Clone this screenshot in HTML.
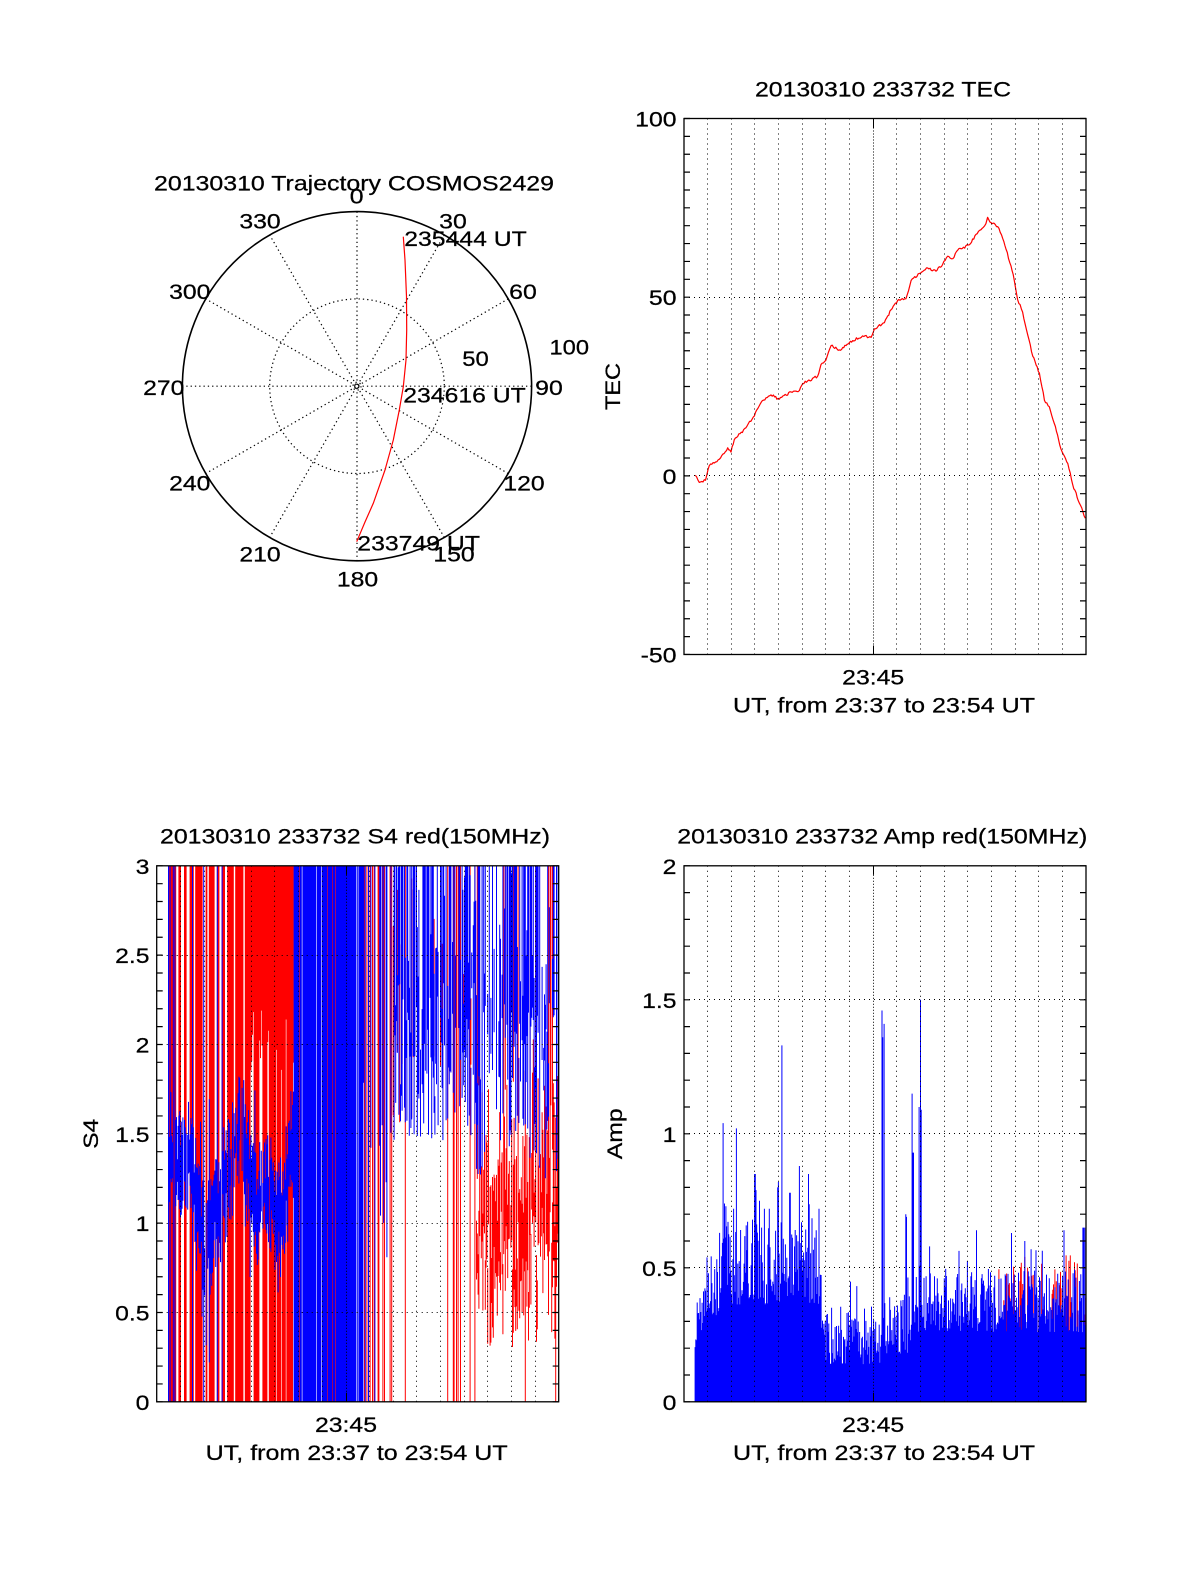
<!DOCTYPE html>
<html><head><meta charset="utf-8">
<style>
html,body{margin:0;padding:0;background:#fff;}
svg{display:block;}
text{font-family:"Liberation Sans",Arial,Helvetica,sans-serif;font-size:21px;fill:#000;stroke:#000;stroke-width:0.25px;}
</style></head><body>
<svg width="1200" height="1575" viewBox="0 0 1200 1575">
<defs>
<clipPath id="c4"><rect x="156.7" y="865.8" width="402" height="536"/></clipPath>
<clipPath id="ca"><rect x="684" y="865.8" width="402" height="536"/></clipPath>
<clipPath id="ct"><rect x="684" y="118.5" width="402" height="536"/></clipPath>
</defs>
<rect width="1200" height="1575" fill="#fff"/>

<!-- ============ POLAR ============ -->
<g fill="none" stroke="#000">
<circle cx="357" cy="386.2" r="174.6" stroke-width="1.6"/>
<g stroke-width="1.2" stroke-dasharray="1.3 3">
<circle cx="357" cy="386.2" r="87.3"/>
<circle cx="357" cy="386.2" r="4"/>
<line x1="357" y1="211.6" x2="357" y2="560.8"/>
<line x1="444.3" y1="235" x2="269.7" y2="537.4"/>
<line x1="508.2" y1="298.9" x2="205.8" y2="473.5"/>
<line x1="531.6" y1="386.2" x2="182.4" y2="386.2"/>
<line x1="508.2" y1="473.5" x2="205.8" y2="298.9"/>
<line x1="444.3" y1="537.4" x2="269.7" y2="235"/>
</g>
</g>
<path d="M403.3 236.7 L405 260 L406.5 296.7 L406.7 330 L406 360 L403.3 386.7 L399.3 410 L393.3 440 L385 470 L373.3 503.3 L365 522 L356.7 541.7" fill="none" stroke="#f00" stroke-width="1.2" stroke-linejoin="round"/>
<text x="154" y="190.7" textLength="400" lengthAdjust="spacingAndGlyphs">20130310 Trajectory COSMOS2429</text>
<text x="349.8" y="203.3" textLength="13.8" lengthAdjust="spacingAndGlyphs">0</text>
<text x="439.2" y="228.3" textLength="27.6" lengthAdjust="spacingAndGlyphs">30</text>
<text x="239.4" y="228.3" textLength="41.3" lengthAdjust="spacingAndGlyphs">330</text>
<text x="509.2" y="299" textLength="27.6" lengthAdjust="spacingAndGlyphs">60</text>
<text x="169.1" y="299" textLength="41.3" lengthAdjust="spacingAndGlyphs">300</text>
<text x="535.2" y="395" textLength="27.6" lengthAdjust="spacingAndGlyphs">90</text>
<text x="143.1" y="395" textLength="41.3" lengthAdjust="spacingAndGlyphs">270</text>
<text x="503.4" y="490.7" textLength="41.3" lengthAdjust="spacingAndGlyphs">120</text>
<text x="169.1" y="490.7" textLength="41.3" lengthAdjust="spacingAndGlyphs">240</text>
<text x="433.4" y="561.7" textLength="41.3" lengthAdjust="spacingAndGlyphs">150</text>
<text x="239.4" y="561.7" textLength="41.3" lengthAdjust="spacingAndGlyphs">210</text>
<text x="336.9" y="586.7" textLength="41.3" lengthAdjust="spacingAndGlyphs">180</text>
<text x="462.3" y="366" textLength="26.5" lengthAdjust="spacingAndGlyphs">50</text>
<text x="549.5" y="354.3" textLength="39.5" lengthAdjust="spacingAndGlyphs">100</text>
<text x="404.3" y="246" textLength="122.4" lengthAdjust="spacingAndGlyphs">235444 UT</text>
<text x="403.3" y="402.3" textLength="122.4" lengthAdjust="spacingAndGlyphs">234616 UT</text>
<text x="357.3" y="550.7" textLength="122.7" lengthAdjust="spacingAndGlyphs">233749 UT</text>

<!-- ============ TEC ============ -->
<path id="tec" clip-path="url(#ct)" d="M695.3 475.3 L699.3 482.4 L705.5 480.3 L709.3 465.6 L719.4 459.2 L727.7 447.8 L731 452.1 L734.3 439.6 L745.9 427.8 L753.3 417 L761.1 402.4 L771 394.9 L779.3 399.2 L791.1 392 L799.4 390.6 L802.7 383.5 L817.6 376.3 L821 364.5 L825.9 360.2 L831.1 345.6 L839.4 349.9 L846 345.6 L852.7 340.6 L862.6 335.9 L871.1 337.4 L874.4 328.8 L884.4 322.7 L891 309.8 L897.6 300.5 L905.9 298.8 L911.1 280.5 L919.4 273.4 L927.7 268 L936 271.2 L942.6 264.5 L947.6 256.2 L952.8 258.7 L957.7 250.2 L969.3 244.8 L976 234.4 L985.9 223.7 L987.6 217.3 L991.1 222.7 L997.7 226.6 L1002.7 238.4 L1006 249.1 L1011 265.9 L1014.3 280.5 L1017.6 299.5 L1022.6 312 L1027.8 335.2 L1032.8 356.3 L1039.4 373.1 L1044.4 400.2 L1049.3 406.7 L1054.3 423.5 L1060.9 448.8 L1067.8 463.5 L1072.7 484.6 L1079.4 503.2 L1085.3 518.2" fill="none" stroke="#f00" stroke-width="1.2" stroke-linejoin="round"/>
<g fill="none" stroke="#000">
<path stroke-width="1" stroke-dasharray="1 4" d="M707.5 118.5V654.5M731.5 118.5V654.5M754.5 118.5V654.5M778.5 118.5V654.5M802.5 118.5V654.5M825.5 118.5V654.5M849.5 118.5V654.5M896.5 118.5V654.5M920.5 118.5V654.5M944.5 118.5V654.5M967.5 118.5V654.5M991.5 118.5V654.5M1015.5 118.5V654.5M1038.5 118.5V654.5M1062.5 118.5V654.5M684 297.5H1086M684 475.5H1086"/>
<path stroke-width="1" stroke-dasharray="1 2" d="M873.5 118.5V654.5"/>
<path stroke-width="1" d="M873.5 118.5v9M873.5 654.5v-9"/>
<line x1="687" y1="117.9" x2="687" y2="655" stroke-width="6" stroke-dasharray="1.2 16.667"/>
<line x1="1083" y1="117.9" x2="1083" y2="655" stroke-width="6" stroke-dasharray="1.2 16.667"/>
<rect x="684" y="118.5" width="402" height="536" stroke-width="1.3"/>
</g>
<text x="755" y="96.7" textLength="256" lengthAdjust="spacingAndGlyphs">20130310 233732 TEC</text>
<text x="635.2" y="126.5" textLength="41.3" lengthAdjust="spacingAndGlyphs">100</text>
<text x="648.9" y="305.2" textLength="27.6" lengthAdjust="spacingAndGlyphs">50</text>
<text x="662.7" y="483.8" textLength="13.8" lengthAdjust="spacingAndGlyphs">0</text>
<text x="640.7" y="662.5" textLength="35.8" lengthAdjust="spacingAndGlyphs">-50</text>
<text x="842.2" y="684.5" textLength="62" lengthAdjust="spacingAndGlyphs">23:45</text>
<text x="733" y="712.5" textLength="302" lengthAdjust="spacingAndGlyphs">UT, from 23:37 to 23:54 UT</text>
<text transform="translate(620,386.5) rotate(-90)" x="-23.5" y="0" textLength="47" lengthAdjust="spacingAndGlyphs">TEC</text>

<!-- ============ S4 ============ -->
<g clip-path="url(#c4)">
<path id="s4r" d="" fill="none" stroke="#f00" stroke-width="1"/>
<path id="s4b" d="" fill="none" stroke="#00f" stroke-width="1"/>
</g>
<g fill="none" stroke="#000">
<path stroke-width="1" stroke-dasharray="1 4" d="M180.5 865.8V1401.8M204.5 865.8V1401.8M227.5 865.8V1401.8M251.5 865.8V1401.8M274.5 865.8V1401.8M298.5 865.8V1401.8M322.5 865.8V1401.8M369.5 865.8V1401.8M393.5 865.8V1401.8M416.5 865.8V1401.8M440.5 865.8V1401.8M464.5 865.8V1401.8M487.5 865.8V1401.8M511.5 865.8V1401.8M535.5 865.8V1401.8M156.7 1312.5H558.7M156.7 1223.5H558.7M156.7 1133.5H558.7M156.7 1044.5H558.7M156.7 955.5H558.7"/>
<path stroke-width="1" stroke-dasharray="1 2" d="M346.5 865.8V1401.8"/>
<path stroke-width="1" d="M346.5 865.8v9M346.5 1401.8v-9"/>
<line x1="159.7" y1="865.2" x2="159.7" y2="1402.4" stroke-width="6" stroke-dasharray="1.2 16.667"/>
<line x1="555.7" y1="865.2" x2="555.7" y2="1402.4" stroke-width="6" stroke-dasharray="1.2 16.667"/>
<rect x="156.7" y="865.8" width="402" height="536" stroke-width="1.3"/>
</g>
<text x="160" y="843.3" textLength="390" lengthAdjust="spacingAndGlyphs">20130310 233732 S4 red(150MHz)</text>
<text x="135.7" y="873.8" textLength="13.8" lengthAdjust="spacingAndGlyphs">3</text>
<text x="115.1" y="963.1" textLength="34.4" lengthAdjust="spacingAndGlyphs">2.5</text>
<text x="135.7" y="1052.5" textLength="13.8" lengthAdjust="spacingAndGlyphs">2</text>
<text x="115.1" y="1141.8" textLength="34.4" lengthAdjust="spacingAndGlyphs">1.5</text>
<text x="135.7" y="1231.1" textLength="13.8" lengthAdjust="spacingAndGlyphs">1</text>
<text x="115.1" y="1320.5" textLength="34.4" lengthAdjust="spacingAndGlyphs">0.5</text>
<text x="135.7" y="1409.8" textLength="13.8" lengthAdjust="spacingAndGlyphs">0</text>
<text x="315" y="1432" textLength="62" lengthAdjust="spacingAndGlyphs">23:45</text>
<text x="205.7" y="1459.8" textLength="302" lengthAdjust="spacingAndGlyphs">UT, from 23:37 to 23:54 UT</text>
<text transform="translate(98,1133.8) rotate(-90)" x="-15" y="0" textLength="30" lengthAdjust="spacingAndGlyphs">S4</text>

<!-- ============ AMP ============ -->
<g clip-path="url(#ca)">
<path id="ampr" d="" fill="none" stroke="#f00" stroke-width="1"/>
<path id="ampb" d="" fill="none" stroke="#00f" stroke-width="1"/>
</g>
<g fill="none" stroke="#000">
<path stroke-width="1" stroke-dasharray="1 4" d="M707.5 865.8V1401.8M731.5 865.8V1401.8M754.5 865.8V1401.8M778.5 865.8V1401.8M802.5 865.8V1401.8M825.5 865.8V1401.8M849.5 865.8V1401.8M896.5 865.8V1401.8M920.5 865.8V1401.8M944.5 865.8V1401.8M967.5 865.8V1401.8M991.5 865.8V1401.8M1015.5 865.8V1401.8M1038.5 865.8V1401.8M1062.5 865.8V1401.8M684 1267.5H1086M684 1133.5H1086M684 999.5H1086"/>
<path stroke-width="1" stroke-dasharray="1 2" d="M873.5 865.8V1401.8"/>
<path stroke-width="1" d="M873.5 865.8v9M873.5 1401.8v-9"/>
<line x1="687" y1="865.2" x2="687" y2="1402.4" stroke-width="6" stroke-dasharray="1.2 25.6"/>
<line x1="1083" y1="865.2" x2="1083" y2="1402.4" stroke-width="6" stroke-dasharray="1.2 25.6"/>
<rect x="684" y="865.8" width="402" height="536" stroke-width="1.3"/>
</g>
<text x="677.3" y="843.3" textLength="410" lengthAdjust="spacingAndGlyphs">20130310 233732 Amp red(150MHz)</text>
<text x="662.7" y="873.8" textLength="13.8" lengthAdjust="spacingAndGlyphs">2</text>
<text x="642.1" y="1007.8" textLength="34.4" lengthAdjust="spacingAndGlyphs">1.5</text>
<text x="662.7" y="1141.8" textLength="13.8" lengthAdjust="spacingAndGlyphs">1</text>
<text x="642.1" y="1275.8" textLength="34.4" lengthAdjust="spacingAndGlyphs">0.5</text>
<text x="662.7" y="1409.8" textLength="13.8" lengthAdjust="spacingAndGlyphs">0</text>
<text x="842.2" y="1432" textLength="62" lengthAdjust="spacingAndGlyphs">23:45</text>
<text x="733" y="1459.8" textLength="302" lengthAdjust="spacingAndGlyphs">UT, from 23:37 to 23:54 UT</text>
<text transform="translate(622,1133.8) rotate(-90)" x="-25.5" y="0" textLength="51" lengthAdjust="spacingAndGlyphs">Amp</text>
</svg>
<script>
(function(){
var s=2463534242|0;
function R(){s^=s<<13;s^=s>>>17;s^=s<<5;return (s>>>0)/4294967296;}
var W=23.647;
/* ---- TEC jitter ---- */
var tp=document.getElementById('tec');
var pts=tp.getAttribute('d').replace(/[ML]/g,' ').trim().split(/\s+/).map(Number);
var d='';
for(var i=0;i+3<pts.length;i+=2){
  var x0=pts[i],y0=pts[i+1],x1=pts[i+2],y1=pts[i+3];
  var n=Math.max(1,Math.round((x1-x0)/1.2));
  for(var k=0;k<n;k++){
    var f=k/n, x=x0+(x1-x0)*f, y=y0+(y1-y0)*f+(k?(R()*2.4-1.2):0);
    d+=(d?'L':'M')+x.toFixed(1)+' '+y.toFixed(1);
  }
}
d+='L'+pts[pts.length-2]+' '+pts[pts.length-1];
tp.setAttribute('d',d);

/* ---- S4 ---- */
var L=156.7,B=1401.8,K=178.67;
function X(t){return L+W*t;}
function Y(v){if(v<0)v=0;if(v>3)v=3;return B-K*v;}
var red=[],blue=[];
function seg(a,x,lo,hi){a.push('M'+x.toFixed(1)+' '+Y(lo).toFixed(1)+'V'+Y(hi).toFixed(1));}
var dt=0.8/W,t,x,r,lo,hi;
var runOn=false,runLeft=0;
for(t=0.5;t<17;t+=dt){
  x=X(t);
  if(t<5.8){
    if(runLeft<=0){runOn=!runOn; runLeft=runOn?(2+Math.floor(R()*9)):(1+Math.floor(R()*4));}
    runLeft--;
    if(runOn) seg(red,x,0,3);
    if(t>3.9) seg(red,x,1.85+R()*0.35,3);
    var c=1.25+0.18*Math.sin(t*2.3)+0.12*Math.sin(t*5.7)-((t>2&&t<2.7)?0.2:0);
    lo=c-0.05-R()*0.3; hi=c+0.05+R()*0.3;
    if(R()<0.08) hi+=R()*0.7;
    if(R()<0.05) lo-=R()*0.4;
    if(R()<0.85) seg(blue,x,lo,hi);
    if(t<0.8){ if(R()<0.5) seg(blue,x,0,3); }
    else if(R()<0.02) seg(blue,x,0,3);
  } else if(t<8.3){
    r=R();
    if(r<0.86) seg(blue,x,0,3); else if(r<0.94) seg(red,x,0,3);
  } else if(t<9.0){
    r=R();
    if(r<0.55) seg(blue,x,0,3);
    else if(r<0.72) seg(red,x,0,3);
    else if(r<0.82) seg(blue,x,0.8+R(),3);
  } else if(t<10){
    r=R();
    if(r<0.08) seg(blue,x,0,3);
    else if(r<0.3) seg(red,x,0,3);
    else if(r<0.6) seg(blue,x,0.8+R()*0.9,3);
  } else if(t<13.5){
    if(R()<0.06) seg(red,x,0,3);
    else if(R()<0.14) seg(red,x,1.5+R()*0.6,3-R()*0.8);
    if(R()<0.78){lo=1.45+R()*0.9; hi=R()<0.55?3:lo+0.2+R(); seg(blue,x,lo,hi);}
  } else {
    if(R()<0.92){lo=0.3+R()*0.8; seg(red,x,lo,lo+0.2+R()*0.8);}
    if(R()<0.1) seg(red,x,1+R(),3);
    if(R()<0.04) seg(red,x,0,1.5);
    if(R()<0.68){lo=1.25+R(); hi=R()<0.5?3:lo+0.2+R(); seg(blue,x,lo,hi);}
  }
}
document.getElementById('s4r').setAttribute('d',red.join(''));
document.getElementById('s4b').setAttribute('d',blue.join(''));

/* ---- Amp ---- */
var L2=684,K2=268;
function X2(t){return L2+W*t;}
function Y2(v){if(v>2)v=2;if(v<0)v=0;return B-K2*v;}
var lv=[[0.55,0.2,0.24],[0.8,0.26,0.4],[1.5,0.32,0.55],[5.8,0.36,0.68],[6.0,0.25,0.33],[8.3,0.14,0.36],[9.8,0.18,0.42],[17.2,0.26,0.5]];
var sp=[[1.66,1.04],[1.71,0.74],[1.76,0.73],[2.1,0.72],[2.23,1.02],[2.9,0.68],[3.0,0.85],[3.04,0.79],[3.2,0.75],[3.4,0.72],[3.6,0.72],[3.95,0.8],[4.0,0.82],[4.13,1.33],[4.48,0.78],[4.88,0.88],[5.26,0.85],[5.72,0.72],[8.38,1.46],[8.41,1.36],[8.45,1.41],[9.38,0.7],[9.42,0.69],[9.65,1.15],[9.69,0.93],[9.95,1.1],[9.99,1.5],[10.03,1.09],[10.4,0.58],[12.38,0.64],[13.86,0.63],[14.42,0.6],[16.07,0.64],[16.86,0.65],[16.9,0.65],[16.94,0.65],[16.98,0.65]];
var ab=[],ar=[];
for(t=0.47;t<17;t+=0.7/W){
  x=X2(t);
  var j=0; while(j<lv.length-1&&lv[j][0]<t) j++;
  var v=lv[j][1]+(lv[j][2]-lv[j][1])*Math.pow(R(),1.3);
  if(R()<0.05) v+=R()*0.15;
  for(var q=0;q<sp.length;q++) if(Math.abs(sp[q][0]-t)<0.016) v=Math.max(v,sp[q][1]);
  if(t>13.3&&R()<0.35) ar.push('M'+x.toFixed(1)+' '+B+'V'+Y2(0.3+R()*0.25).toFixed(1));
  ab.push('M'+x.toFixed(1)+' '+B+'V'+Y2(v).toFixed(1));
}
document.getElementById('ampr').setAttribute('d',ar.join(''));
document.getElementById('ampb').setAttribute('d',ab.join(''));
})();
</script>
</body></html>
